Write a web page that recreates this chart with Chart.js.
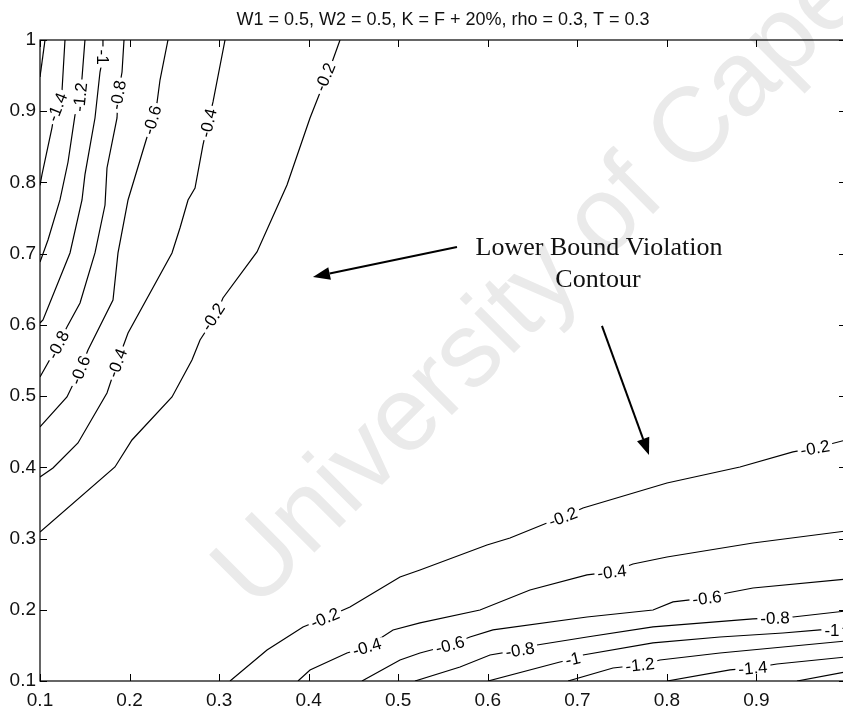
<!DOCTYPE html>
<html>
<head>
<meta charset="utf-8">
<script src="https://cdn.jsdelivr.net/npm/chart.js@4.4.1/dist/chart.umd.min.js"></script>
<style>
  html, body { margin: 0; padding: 0; background: #fff; overflow: hidden; }
  #wrap { width: 843px; height: 707px; overflow: hidden; }
  canvas { display: block; }
</style>
</head>
<body>
<div id="wrap"><canvas id="contour" width="860" height="707"></canvas></div>
<script>
const TITLE = 'W1 = 0.5, W2 = 0.5, K = F + 20%, rho = 0.3, T = 0.3';
const SANS = '"Liberation Sans", Arial, Helvetica, sans-serif';
const SERIF = '"Liberation Serif", "Times New Roman", serif';

const xTicks = [0.1, 0.2, 0.3, 0.4, 0.5, 0.6, 0.7, 0.8, 0.9, 1];
const xTickLabels = ['0.1', '0.2', '0.3', '0.4', '0.5', '0.6', '0.7', '0.8', '0.9', ''];
const yTicks = [0.1, 0.2, 0.3, 0.4, 0.5, 0.6, 0.7, 0.8, 0.9, 1];
const yTickLabels = ['0.1', '0.2', '0.3', '0.4', '0.5', '0.6', '0.7', '0.8', '0.9', '1'];

// contour lines (upper-left group, then lower-right group)
const contourLevels = [-1.6, -1.4, -1.2, -1, -0.8, -0.6, -0.4, -0.2,
                       -0.2, -0.4, -0.6, -0.8, -1, -1.2, -1.4, -1.6];
const contourX = [
  [0.1056, 0.1],
  [0.1279, 0.1245, 0.1167, 0.1134, 0.1022, 0.1],
  [0.1502, 0.1469, 0.1447, 0.1391, 0.1313, 0.1223, 0.1089, 0.1],
  [0.1703, 0.1703, 0.167, 0.1614, 0.1502, 0.1469, 0.1335, 0.1033, 0.1],
  [0.1938, 0.1916, 0.1871, 0.186, 0.1748, 0.1726, 0.1614, 0.1447, 0.1301, 0.1201, 0.1],
  [0.2429, 0.234, 0.2306, 0.2251, 0.2195, 0.1983, 0.1871, 0.1815, 0.1536, 0.1447, 0.1301, 0.1],
  [0.3066, 0.2932, 0.2876, 0.282, 0.2731, 0.2653, 0.2563, 0.2474, 0.1983, 0.186, 0.1748, 0.1424, 0.1145, 0.1],
  [0.435, 0.4238, 0.416, 0.4015, 0.3758, 0.3423, 0.3043, 0.2954, 0.2787, 0.2697, 0.2474, 0.2027, 0.1837, 0.1],
  [0.3122, 0.3535, 0.3937, 0.4182, 0.4461, 0.502, 0.5243, 0.5991, 0.6248, 0.6661, 0.684, 0.7063, 0.8001, 0.8816, 0.9408, 0.9654, 1],
  [0.3881, 0.4015, 0.4428, 0.4651, 0.4942, 0.5243, 0.5913, 0.6471, 0.7108, 0.7387, 0.7621, 0.8001, 0.8961, 1],
  [0.4595, 0.502, 0.5243, 0.5578, 0.5801, 0.6058, 0.7108, 0.7845, 0.8068, 0.8448, 0.8671, 0.8961, 1],
  [0.5187, 0.569, 0.6025, 0.636, 0.655, 0.7108, 0.7845, 0.8961, 0.9207, 0.9408, 1],
  [0.6002, 0.6806, 0.6951, 0.7063, 0.7845, 0.8593, 0.9296, 0.971, 0.9843, 1],
  [0.6896, 0.7398, 0.77, 0.7923, 0.8593, 1],
  [0.8001, 0.8705, 0.8961, 0.9229, 1],
  [0.9453, 1]
];
const contourY = [
  [1, 0.948],
  [1, 0.927, 0.902, 0.877, 0.811, 0.796],
  [1, 0.9466, 0.92, 0.8947, 0.8287, 0.7754, 0.7192, 0.6883],
  [1, 0.9761, 0.955, 0.8905, 0.811, 0.7754, 0.701, 0.6069, 0.6027],
  [1, 0.955, 0.9228, 0.8905, 0.8203, 0.7683, 0.701, 0.6307, 0.5971, 0.5718, 0.5269],
  [1, 0.9438, 0.9115, 0.8877, 0.8638, 0.7754, 0.701, 0.635, 0.5648, 0.5367, 0.4988, 0.4567],
  [1, 0.913, 0.8835, 0.8526, 0.7922, 0.7754, 0.736, 0.701, 0.5886, 0.5465, 0.5044, 0.4342, 0.3991, 0.3865],
  [1, 0.9607, 0.9368, 0.8905, 0.7964, 0.7024, 0.6378, 0.6111, 0.5788, 0.5507, 0.4988, 0.4384, 0.4005, 0.3092],
  [0.1, 0.1436, 0.1759, 0.1885, 0.2039, 0.2461, 0.2559, 0.291, 0.3008, 0.3218, 0.3303, 0.3429, 0.378, 0.4005, 0.4216, 0.4272, 0.4384],
  [0.1, 0.1155, 0.1393, 0.1478, 0.1717, 0.1815, 0.1997, 0.2278, 0.2489, 0.2531, 0.2643, 0.2741, 0.2938, 0.3106],
  [0.1, 0.1295, 0.1393, 0.1506, 0.1618, 0.1717, 0.1899, 0.1997, 0.211, 0.2166, 0.2236, 0.2306, 0.243],
  [0.1, 0.1197, 0.1365, 0.1436, 0.1506, 0.1618, 0.1759, 0.1871, 0.1885, 0.1899, 0.1983],
  [0.1, 0.1267, 0.1309, 0.1365, 0.1534, 0.1618, 0.1674, 0.1717, 0.1717, 0.1745],
  [0.1, 0.1183, 0.1225, 0.1295, 0.1393, 0.1562],
  [0.1, 0.1155, 0.1183, 0.1239, 0.1337],
  [0.1, 0.1127]
];

// inline contour labels
const labelText = ['-1.4', '-1.2', '-1', '-0.8', '-0.6', '-0.4', '-0.2', '-0.8', '-0.6', '-0.4', '-0.2',
                   '-0.2', '-0.2', '-0.2', '-0.4', '-0.4', '-0.6', '-0.6', '-0.8', '-0.8', '-1', '-1', '-1.2', '-1.4'];
const labelX = [0.119, 0.1447, 0.1703, 0.1871, 0.2251, 0.2876, 0.4182, 0.1201, 0.1447, 0.186, 0.2932,
                0.4182, 0.684, 0.9654, 0.4651, 0.7387, 0.5578, 0.8448, 0.636, 0.9207, 0.6951, 0.9843, 0.77, 0.8961];
const labelY = [0.906, 0.92, 0.9761, 0.9228, 0.8877, 0.8835, 0.948, 0.5718, 0.5367, 0.5465, 0.6111,
                0.1885, 0.3303, 0.4272, 0.1478, 0.2531, 0.1506, 0.2166, 0.1436, 0.1885, 0.1309, 0.1717, 0.1225, 0.1183];
const labelLine = [1, 2, 3, 4, 5, 6, 7, 4, 5, 6, 7, 8, 8, 8, 9, 9, 10, 10, 11, 11, 12, 12, 13, 14];

// annotation
const noteLines = ['Lower Bound Violation', 'Contour'];
const noteX = [0.7242, 0.723];
const noteY = [0.708, 0.663];
const arrowFromX = [0.5656, 0.7275];
const arrowFromY = [0.7094, 0.5985];
const arrowToX = [0.4048, 0.78];
const arrowToY = [0.6673, 0.4173];

const datasets = contourLevels.map((lv, i) => ({
  label: String(lv),
  data: contourX[i].map((x, j) => ({ x, y: contourY[i][j] })),
  showLine: true,
  borderColor: '#000',
  borderWidth: 1.2,
  pointRadius: 0,
  tension: 0,
  fill: false
}));

function segDist(px, py, ax, ay, bx, by) {
  const dx = bx - ax, dy = by - ay;
  const t = Math.max(0, Math.min(1, ((px - ax) * dx + (py - ay) * dy) / (dx * dx + dy * dy || 1)));
  const qx = ax + t * dx - px, qy = ay + t * dy - py;
  return qx * qx + qy * qy;
}

const matlabLook = {
  id: 'matlabLook',
  beforeDraw(chart) {
    const ctx = chart.ctx;
    ctx.save();
    ctx.fillStyle = '#fff';
    ctx.fillRect(0, 0, chart.width, chart.height);
    // faint scan watermark
    ctx.translate(255, 612);
    ctx.rotate(-Math.PI / 4);
    ctx.font = '106px ' + SANS;
    ctx.fillStyle = '#eaeaea';
    ctx.textBaseline = 'alphabetic';
    ctx.fillText('University of Cape Town', 0, 0);
    ctx.restore();
  },
  afterDatasetsDraw(chart) {
    const ctx = chart.ctx, xs = chart.scales.x, ys = chart.scales.y, a = chart.chartArea;
    ctx.save();
    ctx.beginPath();
    ctx.rect(a.left, a.top, a.right - a.left, a.bottom - a.top);
    ctx.clip();
    ctx.font = '17px ' + SANS;
    ctx.textAlign = 'center';
    ctx.textBaseline = 'middle';
    labelText.forEach((t, k) => {
      const px = xs.getPixelForValue(labelX[k]), py = ys.getPixelForValue(labelY[k]);
      const cx = contourX[labelLine[k]], cy = contourY[labelLine[k]];
      let best = Infinity, ang = 0;
      for (let j = 0; j < cx.length - 1; j++) {
        const ax = xs.getPixelForValue(cx[j]), ay = ys.getPixelForValue(cy[j]);
        const bx = xs.getPixelForValue(cx[j + 1]), by = ys.getPixelForValue(cy[j + 1]);
        const d = segDist(px, py, ax, ay, bx, by);
        if (d < best) { best = d; ang = Math.atan2(by - ay, bx - ax); }
      }
      if (ang > Math.PI / 2) ang -= Math.PI;
      if (ang < -Math.PI / 2) ang += Math.PI;
      ctx.save();
      ctx.translate(px, py);
      ctx.rotate(ang);
      const w = ctx.measureText(t).width;
      ctx.fillStyle = '#fff';
      ctx.fillRect(-w / 2 - 3, -5, w + 6, 10);
      ctx.fillStyle = '#000';
      ctx.fillText(t, 0, 1);
      ctx.restore();
    });

    // arrows
    ctx.strokeStyle = '#000';
    ctx.fillStyle = '#000';
    ctx.lineWidth = 2;
    arrowFromX.forEach((fx, k) => {
      const x0 = xs.getPixelForValue(fx), y0 = ys.getPixelForValue(arrowFromY[k]);
      const x1 = xs.getPixelForValue(arrowToX[k]), y1 = ys.getPixelForValue(arrowToY[k]);
      const ang = Math.atan2(y1 - y0, x1 - x0);
      const hl = 17, hw = 6.5;
      const bx = x1 - hl * Math.cos(ang), by = y1 - hl * Math.sin(ang);
      ctx.beginPath();
      ctx.moveTo(x0, y0);
      ctx.lineTo(bx, by);
      ctx.stroke();
      ctx.beginPath();
      ctx.moveTo(x1, y1);
      ctx.lineTo(bx + hw * Math.sin(ang), by - hw * Math.cos(ang));
      ctx.lineTo(bx - hw * Math.sin(ang), by + hw * Math.cos(ang));
      ctx.closePath();
      ctx.fill();
    });

    ctx.font = '26px ' + SERIF;
    ctx.fillStyle = '#111';
    noteLines.forEach((t, k) => {
      ctx.fillText(t, xs.getPixelForValue(noteX[k]), ys.getPixelForValue(noteY[k]));
    });
    ctx.restore();
  },
  afterDraw(chart) {
    const ctx = chart.ctx, xs = chart.scales.x, ys = chart.scales.y, a = chart.chartArea;
    const tl = 7;
    ctx.save();
    ctx.strokeStyle = '#000';
    ctx.lineWidth = 1.2;
    ctx.strokeRect(a.left, a.top, a.right - a.left, a.bottom - a.top);
    ctx.lineWidth = 1;
    ctx.beginPath();
    xTicks.forEach(v => {
      const x = Math.round(xs.getPixelForValue(v)) + 0.5;
      ctx.moveTo(x, a.bottom); ctx.lineTo(x, a.bottom - tl);
      ctx.moveTo(x, a.top); ctx.lineTo(x, a.top + tl);
    });
    yTicks.forEach(v => {
      const y = Math.round(ys.getPixelForValue(v)) + 0.5;
      ctx.moveTo(a.left, y); ctx.lineTo(a.left + tl, y);
      ctx.moveTo(a.right, y); ctx.lineTo(a.right - tl, y);
    });
    ctx.stroke();
    ctx.restore();
  }
};

new Chart(document.getElementById('contour'), {
  type: 'scatter',
  data: { datasets },
  plugins: [matlabLook],
  options: {
    responsive: false,
    animation: false,
    layout: { padding: { left: 0, right: 14, top: 0, bottom: 0 } },
    plugins: {
      legend: { display: false },
      tooltip: { enabled: false },
      title: {
        display: true,
        text: TITLE,
        fullSize: false,
        color: '#111',
        font: { family: SANS, size: 18, weight: 'normal', lineHeight: 1.2 },
        padding: { top: 9.2, bottom: 9.2 }
      }
    },
    scales: {
      x: {
        type: 'linear',
        min: 0.1,
        max: 1,
        grid: { display: false, drawTicks: false },
        border: { display: false },
        afterBuildTicks: s => { s.ticks = xTicks.map(v => ({ value: v })); },
        afterFit: s => { s.height = 26; },
        ticks: {
          color: '#111',
          font: { family: SANS, size: 19 },
          padding: 8,
          maxRotation: 0,
          autoSkip: false,
          callback: (v, i) => xTickLabels[i]
        }
      },
      y: {
        type: 'linear',
        min: 0.1,
        max: 1,
        grid: { display: false, drawTicks: false },
        border: { display: false },
        afterBuildTicks: s => { s.ticks = yTicks.map(v => ({ value: v })); },
        afterFit: s => { s.width = 40; },
        ticks: {
          color: '#111',
          font: { family: SANS, size: 19 },
          padding: 4,
          autoSkip: false,
          callback: (v, i) => yTickLabels[i]
        }
      }
    }
  }
});
</script>
</body>
</html>
